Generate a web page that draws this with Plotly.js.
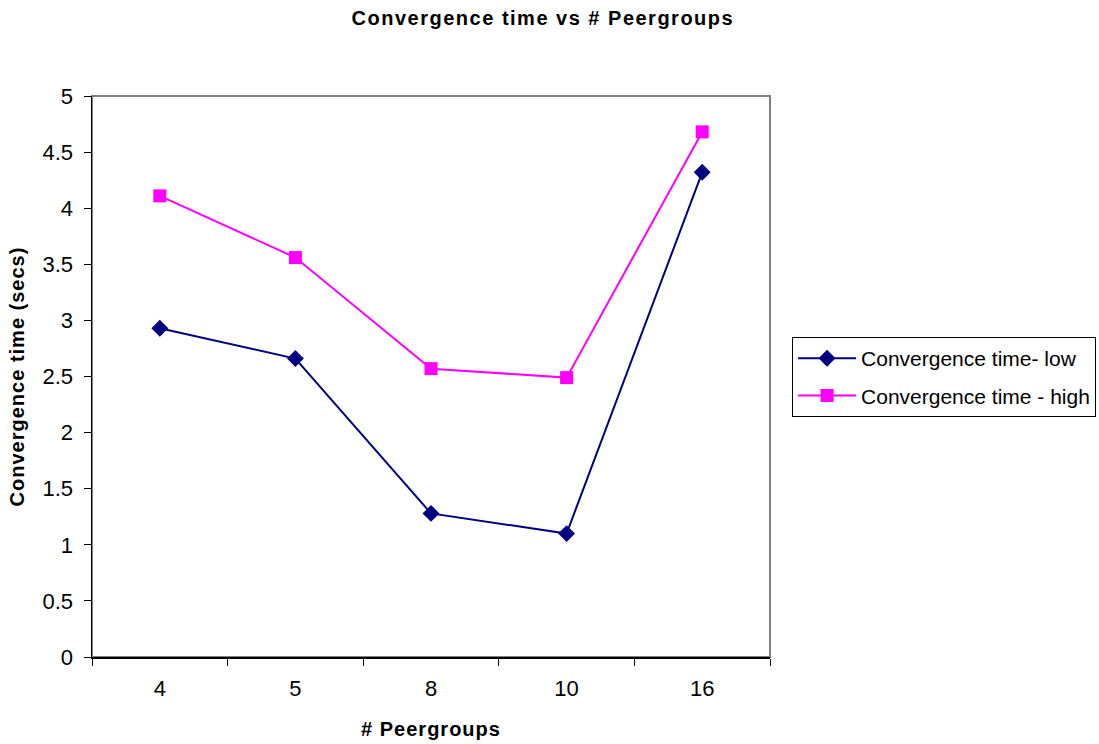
<!DOCTYPE html>
<html>
<head>
<meta charset="utf-8">
<script src="https://cdn.plot.ly/plotly-3.0.1.min.js"></script>
<style>
html,body{margin:0;padding:0;background:#fff;}
#chart{width:1099px;height:744px;}
#chart .gtitle{letter-spacing:1.5px;}
#chart .xtitle, #chart .ytitle{letter-spacing:1px;}
</style>
</head>
<body>
<div id="chart"></div>
<script>
const categories = ["4", "5", "8", "10", "16"];
const lowValues = [2.93, 2.66, 1.28, 1.10, 4.32];
const highValues = [4.11, 3.56, 2.57, 2.49, 4.68];
const yTickValues = [0, 0.5, 1, 1.5, 2, 2.5, 3, 3.5, 4, 4.5, 5];
const yTickLabels = ["0", "0.5", "1", "1.5", "2", "2.5", "3", "3.5", "4", "4.5", "5"];

const traces = [
  {
    x: categories, y: lowValues, type: "scatter", mode: "lines+markers",
    name: "Convergence time- low", legendgroup: "low",
    line: {color: "#000080", width: 2},
    marker: {symbol: "diamond", size: 13, color: "#000080"}
  },
  {
    x: categories, y: highValues, type: "scatter", mode: "lines+markers",
    name: "Convergence time - high", legendgroup: "high",
    line: {color: "#FF00FF", width: 2},
    marker: {symbol: "square", size: 13, color: "#FF00FF"}
  }
];

const layout = {
  width: 1099, height: 744,
  margin: {l: 92, r: 329, t: 96, b: 87, autoexpand: false},
  paper_bgcolor: "#fff", plot_bgcolor: "#fff",
  font: {family: "Liberation Sans, Arial, sans-serif", color: "#000", size: 22},
  title: {text: "<b>Convergence time vs # Peergroups</b>", x: 0.494, xanchor: "center", xref: "container", y: 0.976, yanchor: "middle", font: {size: 20}},
  showlegend: true,
  legend: {
    xref: "container", yref: "container",
    x: 0.7207, xanchor: "left", y: 0.547, yanchor: "top",
    bordercolor: "#000", borderwidth: 1, bgcolor: "#fff",
    font: {size: 21}, itemwidth: 58, traceorder: "grouped", tracegroupgap: 7
  },
  xaxis: {
    type: "category", categoryorder: "array", categoryarray: categories,
    range: [-0.5, 4.5], automargin: false,
    showline: true, linecolor: "#000", linewidth: 1.5,
    ticks: "outside", tickson: "boundaries", ticklen: 7, tickcolor: "#000",
    ticklabelstandoff: 11,
    showgrid: false, zeroline: false,
    tickfont: {size: 22},
    title: {text: "<b># Peergroups</b>", font: {size: 20}, standoff: 22}
  },
  yaxis: {
    range: [0, 5], tickvals: yTickValues, ticktext: yTickLabels, automargin: false,
    showline: true, linecolor: "#000", linewidth: 1.5,
    ticks: "outside", ticklen: 7, tickcolor: "#000",
    ticklabelstandoff: 6,
    showgrid: false, zeroline: false,
    tickfont: {size: 22},
    title: {text: "<b>Convergence time (secs)</b>", font: {size: 20}, standoff: 12}
  },
  shapes: [
    {type: "rect", xref: "paper", yref: "paper", x0: 0, x1: 1, y0: 0, y1: 1,
     line: {color: "#808080", width: 2}, layer: "below"}
  ]
};

Plotly.newPlot("chart", traces, layout, {displayModeBar: false, staticPlot: true});
</script>
</body>
</html>
